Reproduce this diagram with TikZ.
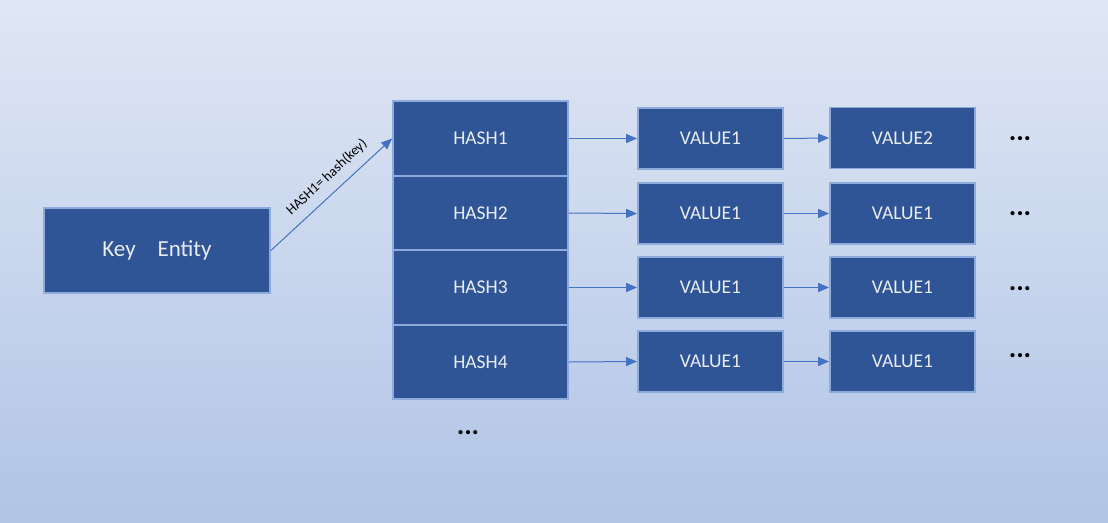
\documentclass[tikz,border=0pt]{standalone}
\usepackage{fontspec}
\setmainfont{Carlito}
\usetikzlibrary{arrows.meta}
\definecolor{bgtop}{RGB}{224,231,244}
\definecolor{bgbot}{RGB}{176,196,230}
\definecolor{boxfill}{RGB}{47,85,151}
\definecolor{boxline}{RGB}{143,170,220}
\definecolor{arrcol}{RGB}{68,114,196}
\definecolor{txtcol}{RGB}{232,236,244}
\tikzset{
  blk/.style={draw=boxline, line width=1.8pt, fill=boxfill, text=txtcol, inner sep=0pt, font=\fontsize{19.5}{22}\selectfont},
  hashbox/.style={blk, minimum width=175pt, minimum height=74.5pt},
  valbox/.style={blk, minimum width=145pt, minimum height=61pt},
  arr/.style={draw=arrcol, line width=1pt, -{Triangle[length=11pt,width=9pt]}},
  dotsn/.style={font=\fontsize{28}{30}\selectfont\bfseries, text=black, inner sep=0pt}
}
\begin{document}
\begin{tikzpicture}[x=1pt,y=-1pt]
\shade[top color=bgtop, bottom color=bgbot] (0,0) rectangle (1108,522);
\useasboundingbox (0,0) rectangle (1108,522);
\node[blk, minimum width=226pt, minimum height=85pt, font=\fontsize{23}{26}\selectfont] (key) at (157,250.5) {Key\hspace{0.95em}Entity\hspace{12pt}};
\node[hashbox] (h1) at (480.5,138.5) {HASH1};
\node[hashbox] (h2) at (480.5,213) {HASH2};
\node[hashbox] (h3) at (480.5,287.5) {HASH3};
\node[hashbox] (h4) at (480.5,362) {HASH4};
\node[valbox] (v11) at (710.5,138.5) {VALUE1};
\node[valbox] (v12) at (710.5,213.5) {VALUE1};
\node[valbox] (v13) at (710.5,287.5) {VALUE1};
\node[valbox] (v14) at (710.5,361.5) {VALUE1};
\node[valbox] (v21) at (902.5,138) {VALUE2};
\node[valbox] (v22) at (902.5,213.5) {VALUE1};
\node[valbox] (v23) at (902.5,287.5) {VALUE1};
\node[valbox] (v24) at (902.5,361.5) {VALUE1};
\node[dotsn] (d1) at (1020,138.5) {...};
\node[dotsn] (d2) at (1020,213.5) {...};
\node[dotsn] (d3) at (1020,288.5) {...};
\node[dotsn] (d4) at (1020,355.5) {...};
\node[dotsn] (d5) at (468,432.5) {...};
\draw[arr] (key.east) -- (h1.west) node[pos=0.55, above, sloped, text=black, font=\fontsize{14}{16}\selectfont, inner sep=9pt] {HASH1= hash(key)};
\draw[arr] (h1.east) -- (v11.west);
\draw[arr] (h2.east) -- (v12.west);
\draw[arr] (h3.east) -- (v13.west);
\draw[arr] (h4.east) -- (v14.west);
\draw[arr] (v11.east) -- (v21.west);
\draw[arr] (v12.east) -- (v22.west);
\draw[arr] (v13.east) -- (v23.west);
\draw[arr] (v14.east) -- (v24.west);
\end{tikzpicture}
\end{document}
